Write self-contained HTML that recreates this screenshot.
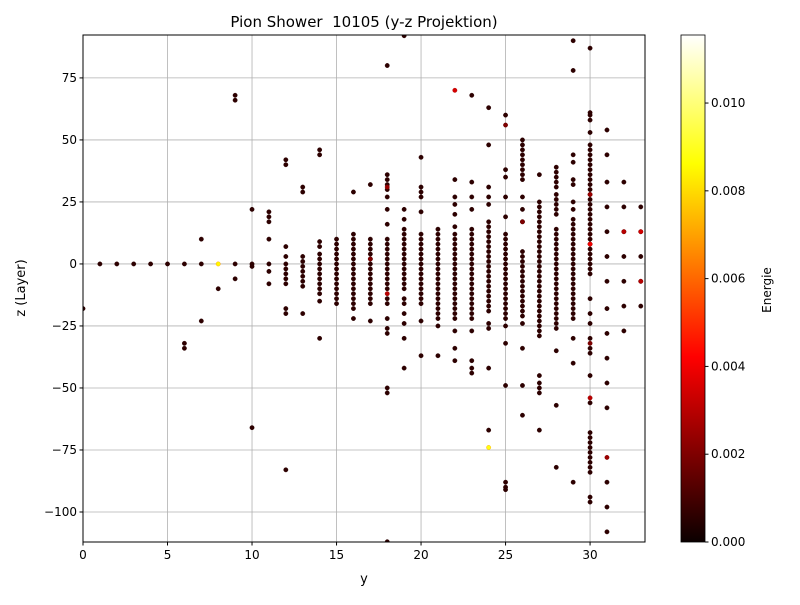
<!DOCTYPE html>
<html><head><meta charset="utf-8"><style>
body{margin:0;background:#fff;font-family:"Liberation Sans","DejaVu Sans",sans-serif}
svg text{font-family:"DejaVu Sans","Liberation Sans",sans-serif}
</style></head><body>
<svg id="chart" width="800" height="600" viewBox="0 0 800 600">
<defs><linearGradient id="hot" x1="0" y1="1" x2="0" y2="0">
<stop offset="0" stop-color="#0b0000"/><stop offset="0.365" stop-color="#ff0000"/>
<stop offset="0.746" stop-color="#ffff00"/><stop offset="1" stop-color="#ffffff"/></linearGradient>
<clipPath id="clip"><rect x="83" y="35" width="562" height="507"/></clipPath></defs>
<rect width="800" height="600" fill="#fff"/>
<g id="grid"></g>
<g id="points" clip-path="url(#clip)"></g>
<rect x="83" y="35" width="562" height="507" fill="none" stroke="#000" stroke-width="1"/>
<g id="axes"></g>
<text x="364" y="27" font-size="15" text-anchor="middle">Pion Shower&#160; 10105 (y-z Projektion)</text>
<text x="364" y="583" font-size="13" text-anchor="middle">y</text>
<text transform="translate(25,288) rotate(-90)" font-size="13" text-anchor="middle">z (Layer)</text>
<rect x="681" y="35" width="24" height="507" fill="url(#hot)" stroke="#000" stroke-width="0.8"/>
<g id="cbar"></g>
<text transform="translate(771,290) rotate(-90)" font-size="12" text-anchor="middle">Energie</text>
</svg>
<script>
const colY=[0,1,2,3,4,5,6,7,8,9,10,11,12,13,14,15,16,17,18,19,20,21,22,23,24,25,26,27,28,29,30,31,32,33];
const colZ=[
[-18],[0],[0],[0],[0],[0],[0,-32,-34],[0,10,-23],[-10],[68,66,0,-6],[22,0,-1,-66],
[21,19,17,10,0,-3,-8],
[42,40,7,3,0,-2,-4,-6,-8,-18,-20,-83],
[31,29,3,1,-1,-3,-5,-7,-9,-20],
[46,44,9,7,4,2,0,-2,-4,-6,-8,-10,-12,-15,-30],
[10,8,6,4,2,0,-2,-4,-6,-8,-10,-12,-14,-16],
[29,12,10,8,6,4,2,0,-2,-4,-6,-8,-10,-12,-14,-16,-18,-22],
[32,10,8,6,4,2,0,-2,-4,-6,-8,-10,-12,-14,-16,-23],
[80,36,34,32,30,27,22,16,10,8,6,4,2,0,-2,-4,-6,-8,-10,-14,-16,-22,-26,-28,-50,-52,-112],
[92,22,18,14,12,10,8,6,4,2,0,-2,-4,-6,-8,-10,-14,-16,-20,-24,-30,-42],
[43,31,29,27,21,12,10,8,6,4,2,0,-2,-4,-6,-8,-10,-12,-14,-16,-23,-37],
[14,12,10,8,6,4,2,0,-2,-4,-6,-8,-10,-12,-14,-16,-18,-20,-22,-25,-37],
[34,27,24,20,15,12,10,8,6,4,2,0,-2,-4,-6,-8,-10,-12,-14,-16,-18,-20,-22,-27,-34,-39],
[68,33,27,22,14,12,10,8,6,4,2,0,-2,-4,-6,-8,-10,-12,-14,-16,-18,-20,-22,-27,-39,-42,-44],
[63,48,31,27,24,17,15,13,11,9,7,5,3,1,-1,-3,-5,-7,-9,-11,-13,-15,-17,-19,-24,-26,-42,-67],
[60,38,35,27,19,12,10,8,6,4,2,0,-2,-4,-6,-8,-10,-12,-14,-16,-18,-20,-22,-25,-32,-49,-88,-90,-91],
[50,48,46,44,42,40,38,36,34,27,22,17,5,3,1,-1,-3,-5,-7,-9,-11,-13,-15,-17,-19,-21,-24,-34,-49,-61],
[36,25,23,21,19,17,15,13,11,9,7,5,3,1,-1,-3,-5,-7,-9,-11,-13,-15,-17,-19,-21,-23,-25,-27,-29,-45,-48,-50,-52,-67],
[39,37,35,33,31,28,26,24,22,20,14,12,10,8,6,4,2,0,-2,-4,-6,-8,-10,-12,-14,-16,-18,-20,-22,-24,-26,-35,-57,-82],
[90,78,44,41,34,32,25,22,18,16,14,12,10,8,6,4,2,0,-2,-4,-6,-8,-10,-12,-14,-16,-18,-20,-22,-30,-40,-88],
[87,61,60,58,53,48,46,44,42,40,38,36,34,32,30,28,26,24,22,20,18,16,14,12,10,8,6,4,2,0,-2,-4,-14,-20,-24,-30,-34,-36,-45,-56,-68,-70,-72,-74,-76,-78,-80,-82,-84,-94,-96],
[54,44,33,23,13,3,-7,-18,-28,-38,-48,-58,-88,-98,-108],
[33,23,13,3,-7,-17,-27],
[23,13,3,-7,-17]];
const hotY=[8,22,18,18,24,31,30,30,32,33,33,17,25,26,30,30];
const hotZ=[0,70,-12,31,-74,-78,8,-54,13,13,-7,2,56,17,28,-32];
const hotE=[0.0085,0.0035,0.003,0.0025,0.0088,0.0025,0.004,0.003,0.003,0.0035,0.003,0.002,0.002,0.002,0.0025,0.002];
const xTicks=[0,5,10,15,20,25,30];
const yTicks=[75,50,25,0,-25,-50,-75,-100];
const cTicks=[0,0.002,0.004,0.006,0.008,0.010];
const cTickLabels=["0.000","0.002","0.004","0.006","0.008","0.010"];
const X0=83,X1=645,Y0=35,Y1=542,XMIN=0,XMAX=33.25,YMIN=-112.1,YMAX=92.3,EMAX=0.01155;
const sx=v=>X0+(v-XMIN)/(XMAX-XMIN)*(X1-X0);
const sy=v=>Y1-(v-YMIN)/(YMAX-YMIN)*(Y1-Y0);
const sc=e=>Y1-e/EMAX*(Y1-Y0);
function hot(t){t=Math.max(0,Math.min(1,t));
 const r=Math.min(1,0.0416+t/0.365*0.958),g=Math.max(0,Math.min(1,(t-0.365)/0.381)),b=Math.max(0,Math.min(1,(t-0.746)/0.254));
 return `rgb(${Math.round(r*255)},${Math.round(g*255)},${Math.round(b*255)})`;}
const NS="http://www.w3.org/2000/svg";
function mk(tag,attrs,parent){const e=document.createElementNS(NS,tag);for(const k in attrs)e.setAttribute(k,attrs[k]);parent.appendChild(e);return e;}
const grid=document.getElementById('grid'),axes=document.getElementById('axes'),pts=document.getElementById('points'),cbar=document.getElementById('cbar');
xTicks.forEach(v=>{const x=sx(v);
 const l=mk('line',{x1:x,x2:x,y1:Y0,y2:Y1,stroke:'#b0b0b0','stroke-width':0.8},grid);
 
 
 mk('line',{x1:x,x2:x,y1:Y1,y2:Y1+3.5,stroke:'#000'},axes);
 const t=mk('text',{x:x,y:Y1+17,'font-size':12,'text-anchor':'middle'},axes);t.textContent=v;
 
 });
yTicks.forEach(v=>{const y=sy(v);
 const l=mk('line',{x1:X0,x2:X1,y1:y,y2:y,stroke:'#b0b0b0','stroke-width':0.8},grid);
 
 
 mk('line',{x1:X0-3.5,x2:X0,y1:y,y2:y,stroke:'#000'},axes);
 const t=mk('text',{x:X0-6,y:y+4,'font-size':12,'text-anchor':'end'},axes);t.textContent=v<0?'\u2212'+(-v):v;
 
 });
cTicks.forEach((v,i)=>{const y=sc(v);
 mk('line',{x1:705,x2:708.5,y1:y,y2:y,stroke:'#000'},cbar);
 const t=mk('text',{x:711,y:y+4,'font-size':12},cbar);t.textContent=cTickLabels[i];
 
 });
colY.forEach((y,i)=>{colZ[i].forEach(z=>{
 const c=mk('circle',{cx:sx(y),cy:sy(z),r:2.2,fill:hot(0.0006/EMAX),stroke:'#2a0000','stroke-width':0.4},pts);
 
 });});
hotY.forEach((y,i)=>{
 const c=mk('circle',{cx:sx(y),cy:sy(hotZ[i]),r:2.2,fill:hot(hotE[i]/EMAX),stroke:hot(hotE[i]/EMAX*0.8),'stroke-width':0.4},pts);
 
 });
</script>
</body></html>
